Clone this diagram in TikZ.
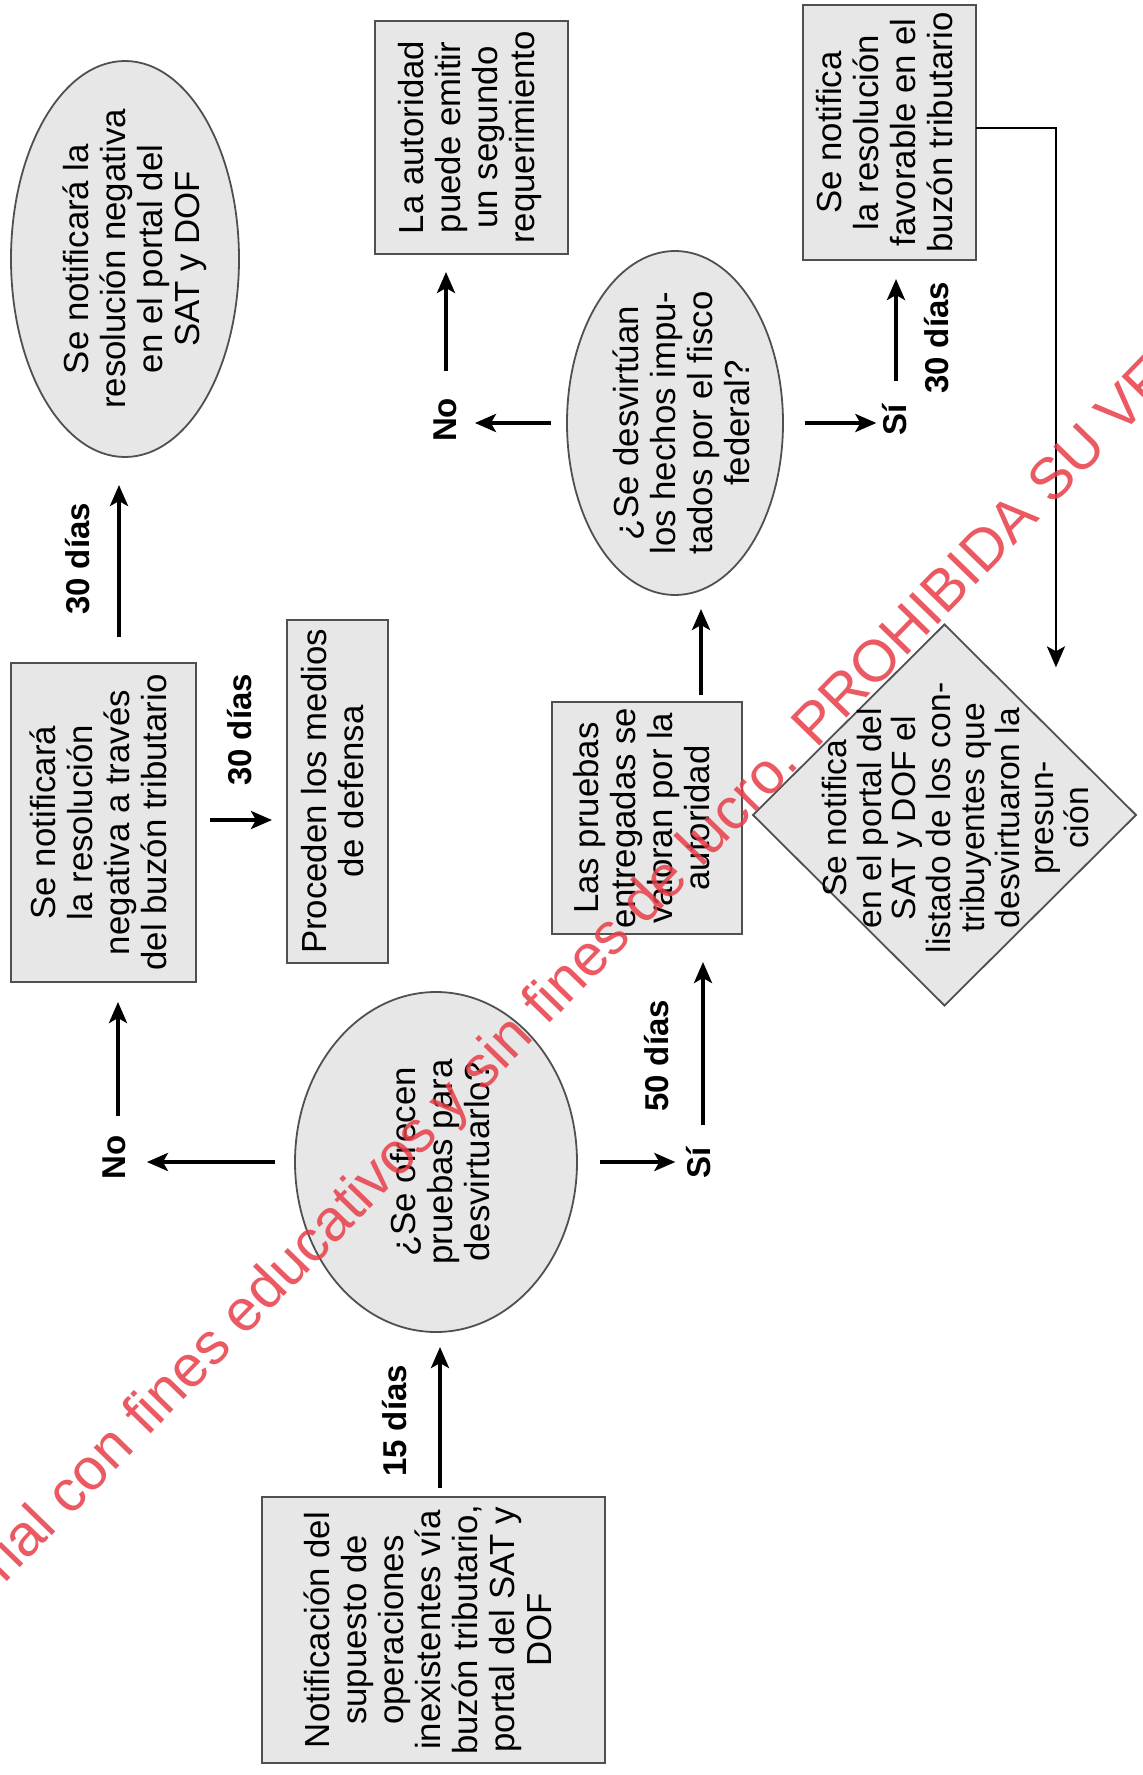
\documentclass[tikz,border=0pt]{standalone}
\usepackage{fontspec}
\setmainfont{Liberation Sans}
\usepackage{graphicx}
\usetikzlibrary{shapes.geometric,arrows.meta,calc}
\definecolor{fillg}{RGB}{231,231,231}
\definecolor{bordg}{RGB}{80,80,80}
\definecolor{wmred}{RGB}{232,62,72}
\newcommand{\rt}[1]{\rotatebox{90}{\begin{tabular}{@{}c@{}}#1\end{tabular}}}
\newcommand{\rl}[1]{\rotatebox{90}{#1}}
\begin{document}
\begin{tikzpicture}[x=0.5pt,y=-0.5pt,
  shapebase/.style={draw=bordg, fill=fillg, line width=0.9pt, inner sep=0pt, outer sep=0pt},
  boxnode/.style={shapebase, rectangle, font=\fontsize{17.4}{18.5}\selectfont},
  ellnode/.style={shapebase, ellipse},
  dianode/.style={shapebase, diamond},
  txt/.style={inner sep=0pt, font=\fontsize{17.4}{18.5}\selectfont},
  lbl/.style={inner sep=0pt, font=\fontsize{16.5}{18}\selectfont\bfseries},
  arr/.style={line width=1.9pt, -{Stealth[length=10.5pt,width=9pt,inset=2.5pt]}},
  conn/.style={line width=1.4pt, -{Stealth[length=10.5pt,width=9pt,inset=2.5pt]}},
  wm/.style={inner sep=0pt, font=\fontsize{29.3}{30}\selectfont, text=wmred, opacity=0.85}
]
\useasboundingbox (0,0) rectangle (1143,1775);
\fill[white] (0,0) rectangle (1143,1775);

% shapes
\node[ellnode, minimum width=114pt, minimum height=198pt] (e1) at (125,259) {};
\node[txt] (e1t) at ([xshift=6pt]e1.center) {\rt{Se notificará la\\resolución negativa\\en el portal del\\SAT y DOF}};

\node[boxnode, minimum width=96.5pt, minimum height=116.5pt] (b1) at (471.5,137.5) {\rt{La autoridad\\puede emitir\\un segundo\\requerimiento}};

\node[ellnode, minimum width=108pt, minimum height=172pt] (e2) at (675,423) {};
\node[txt] (e2t) at ([xshift=6pt]e2.center) {\rt{¿Se desvirtúan\\los hechos impu-\\tados por el fisco\\federal?}};

\node[boxnode, minimum width=86.5pt, minimum height=127.5pt] (b2) at (889.5,132.5) {\rt{Se notifica\\la resolución\\favorable en el\\buzón tributario}};

\node[boxnode, minimum width=92.5pt, minimum height=159.5pt] (b3) at (103.5,822.5) {\rt{Se notificará\\la resolución\\negativa a través\\del buzón tributario}};

\node[boxnode, minimum width=50.5pt, minimum height=171.5pt] (b4) at (337.5,791.5) {\rt{Proceden los medios\\de defensa}};

\node[boxnode, minimum width=95pt, minimum height=116pt] (b5) at (647,818) {\rt{Las pruebas\\entregadas se\\valoran por la\\autoridad}};

\node[dianode, minimum width=191.5pt, minimum height=190.5pt] (d1) at (944.5,815) {};
\node[txt, font=\fontsize{16.8}{17}\selectfont] (d1t) at ([xshift=8pt,yshift=-1.5pt]d1.center) {\rt{Se notifica\\en el portal del\\SAT y DOF el\\listado de los con-\\tribuyentes que\\desvirtuaron la\\presun-\\ción}};

\node[ellnode, minimum width=141pt, minimum height=170pt] (e3) at (436,1162) {};
\node[txt] (e3t) at ([xshift=4.5pt]e3.center) {\rt{¿Se ofrecen\\pruebas para\\desvirtuarlo?}};

\node[boxnode, minimum width=171.5pt, minimum height=133pt] (b6) at (433.5,1630) {\rt{Notificación del\\supuesto de\\operaciones\\inexistentes vía\\buzón tributario,\\portal del SAT y\\DOF}};

% labels
\node[lbl] (l30a) at (78,559) {\rl{30 días}};
\node[lbl] (lnoA) at (114,1157) {\rl{No}};
\node[lbl] (l30b) at (240,730) {\rl{30 días}};
\node[lbl] (l15) at (395,1421) {\rl{15 días}};
\node[lbl] (lsiA) at (699,1163) {\rl{Sí}};
\node[lbl] (l50) at (657,1056) {\rl{50 días}};
\node[lbl] (lnoB) at (445,420) {\rl{No}};
\node[lbl] (lsiB) at (895,420) {\rl{Sí}};
\node[lbl] (l30c) at (937,338) {\rl{30 días}};

% connectors
\draw[arr, shorten <=13pt, shorten >=14pt] ([xshift=7.75pt]b3.north) -- ([xshift=7.75pt]b3.north |- e1.south);
\draw[arr, shorten <=10pt, shorten >=10.5pt] (e3.west) -- (e3.west -| lnoA.east);
\draw[arr, shorten <=9.5pt, shorten >=10pt] ([xshift=2pt]lnoA.north) -- ([xshift=2pt]lnoA.north |- b3.south);
\draw[arr, shorten <=7pt, shorten >=7.5pt] ([yshift=1.25pt]b3.east) -- ([yshift=1.25pt]b3.east -| b4.west);
\draw[arr, shorten <=11.5pt, shorten >=5.5pt] (e3.east) -- (e3.east -| lsiA.west);
\draw[arr, shorten <=11pt, shorten >=14pt] ([xshift=2pt]lsiA.north) -- ([xshift=2pt]lsiA.north |- b5.south);
\draw[arr, shorten <=3.5pt, shorten >=7pt] ([xshift=27pt]b5.north) -- ([xshift=27pt]b5.north |- e2.south);
\draw[arr, shorten <=8pt, shorten >=9pt] (e2.west) -- (e2.west -| lnoB.east);
\draw[arr, shorten <=13.5pt, shorten >=9pt] ([xshift=0.5pt]lnoB.north) -- ([xshift=0.5pt]lnoB.north |- b1.south);
\draw[arr, shorten <=11pt, shorten >=3pt] (e2.east) -- (e2.east -| lsiB.west);
\draw[arr, shorten <=11.5pt, shorten >=9.5pt] ([xshift=0.5pt]lsiB.north) -- ([xshift=0.5pt]lsiB.north |- b2.south);
\draw[conn, shorten >=34pt] ([yshift=2.25pt]b2.east) -| ($(d1.north)!0.582!(d1.east)$);
\draw[arr, shorten <=4.5pt, shorten >=7.5pt] ([xshift=3.25pt]b6.north) -- ([xshift=3.25pt]b6.north |- e3.south);

% watermark
\node[wm, rotate=45.8, anchor=base west] (wmark) at (4,1585) {rial con fines educativos y sin fines de lucro. PROHIBIDA SU VE};
\end{tikzpicture}
\end{document}
